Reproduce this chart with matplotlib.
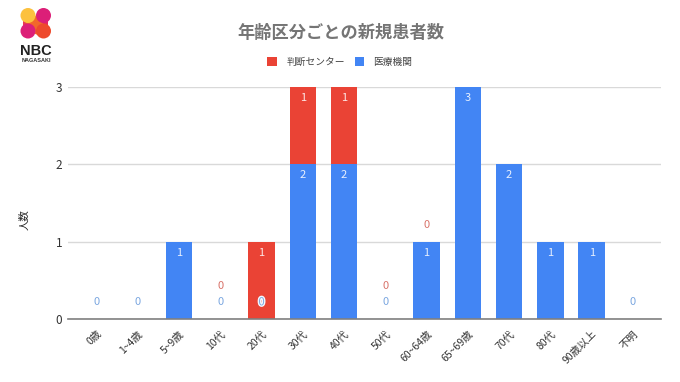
import matplotlib as mpl
mpl.use('Agg')
import matplotlib.pyplot as plt
import matplotlib.patheffects as pe
from matplotlib.patches import Circle, Polygon
import numpy as np

plt.rcParams['font.family'] = ['Noto Sans CJK JP', 'DejaVu Sans']

categories = ['0歳', '1~4歳', '5~9歳', '10代', '20代', '30代', '40代', '50代',
              '60~64歳', '65~69歳', '70代', '80代', '90歳以上', '不明']
clinic = [0, 0, 1, 0, 0, 2, 2, 0, 1, 3, 2, 1, 1, 0]
center = [0, 0, 0, 0, 1, 1, 1, 0, 0, 0, 0, 0, 0, 0]
# which zero labels the original shows
center_zero_shown = ['10代', '50代', '60~64歳']

BLUE = '#4285f4'
RED = '#ea4335'
W, H = 680, 382

fig = plt.figure(figsize=(W / 100, H / 100), dpi=100)
ax = fig.add_axes([68 / W, 1 - 319 / H, (661 - 68) / W, (319 - 87) / H])

x = np.arange(len(categories))
clinic = np.array(clinic)
center = np.array(center)
bar_w = 0.64
bars_blue = ax.bar(x, clinic, bar_w, color=BLUE, label='医療機関', zorder=2)
bars_red = ax.bar(x, center, bar_w, bottom=clinic, color=RED, label='判断センター', zorder=2)

ax.set_xlim(-0.69, 13.68)
ax.set_ylim(0, 3)
ax.set_yticks([0, 1, 2, 3])
ax.set_xticks(x)
ax.set_xticklabels(categories, rotation=45, ha='right', rotation_mode='anchor',
                   fontsize=7.5, color='#333333')
ax.tick_params(axis='both', length=0, labelsize=7.5, labelcolor='#333333')
ax.tick_params(axis='y', labelsize=8.5, pad=4)
ax.tick_params(axis='x', pad=7)
ax.set_xticks(x)
ax.grid(axis='y', color='#d9d9d9', lw=1, zorder=1)
for s in ['top', 'right', 'left']:
    ax.spines[s].set_visible(False)
ax.spines['bottom'].set_color('#808080')
ax.spines['bottom'].set_linewidth(1.2)
ax.spines['bottom'].set_zorder(3)

# data labels
for i, cat in enumerate(categories):
    if clinic[i] > 0:
        ax.annotate(str(clinic[i]), (i, clinic[i]), xytext=(0, -8), textcoords='offset points',
                    ha='center', va='center', fontsize=8, color='#e8f0fe', zorder=4)
    else:
        txt = ax.annotate('0', (i, 0), xytext=(0, 12), textcoords='offset points',
                          ha='center', va='center', fontsize=8, color='#7ba7e0', zorder=4)
        if center[i] > 0:
            txt.set_path_effects([pe.withStroke(linewidth=2, foreground='#f4f8fe')])
    if center[i] > 0:
        ax.annotate(str(center[i]), (i, clinic[i] + center[i]), xytext=(0, -8),
                    textcoords='offset points', ha='center', va='center', fontsize=8,
                    color='#fde8e6', zorder=4)
    elif cat in center_zero_shown:
        off = 24 if clinic[i] == 0 else 12
        ax.annotate('0', (i, clinic[i]), xytext=(0, off), textcoords='offset points',
                    ha='center', va='center', fontsize=8, color='#d9736a', zorder=4)

fig.text(24 / W, 1 - 220 / H, '人数', rotation=90, ha='center', va='center',
         fontsize=7.5, color='#222222')
fig.text(340.5 / W, 1 - 33 / H, '年齢区分ごとの新規患者数', ha='center', va='center',
         fontsize=12.4, fontweight='bold', color='#757575')

fig.legend(handles=[bars_red, bars_blue], labels=['判断センター', '医療機関'], ncol=2,
           loc='center', bbox_to_anchor=(340 / W, 1 - 62 / H), frameon=False, fontsize=7,
           handlelength=1.0, handleheight=1.0, handletextpad=0.95, columnspacing=1.0,
           labelcolor='#444444')

# logo
logo = fig.add_axes([0, 0, 1, 1], zorder=5)
logo.set_xlim(0, W)
logo.set_ylim(H, 0)
logo.axis('off')
logo.add_patch(Polygon([(23, 15), (32, 15), (32, 31), (23, 31)], fc='#e83a55', ec='none'))
logo.add_patch(Polygon([(39, 15), (48, 15), (48, 31), (39, 31)], fc='#e5285e', ec='none'))
logo.add_patch(Polygon([(24, 12), (33, 13), (47, 28), (40, 36), (33, 33), (24, 20)],
                       closed=True, fc='#f2682a', ec='none'))
for cx, cy, col in [(43.5, 15.5, '#dc1f78'), (28, 31, '#dc1f78'),
                    (28, 15.5, '#fcc13e'), (43.5, 31, '#ee4a2c')]:
    logo.add_patch(Circle((cx, cy), 7.5, fc=col, ec='none'))
logo.text(36, 51, 'NBC', ha='center', va='center', fontsize=10.5, fontweight='bold',
          color='#222222', family='Liberation Sans')
logo.text(36, 60.5, 'NAGASAKI', ha='center', va='center', fontsize=4, fontweight='bold',
          color='#333333', family='Liberation Sans')

plt.savefig('out.png', dpi=100)
